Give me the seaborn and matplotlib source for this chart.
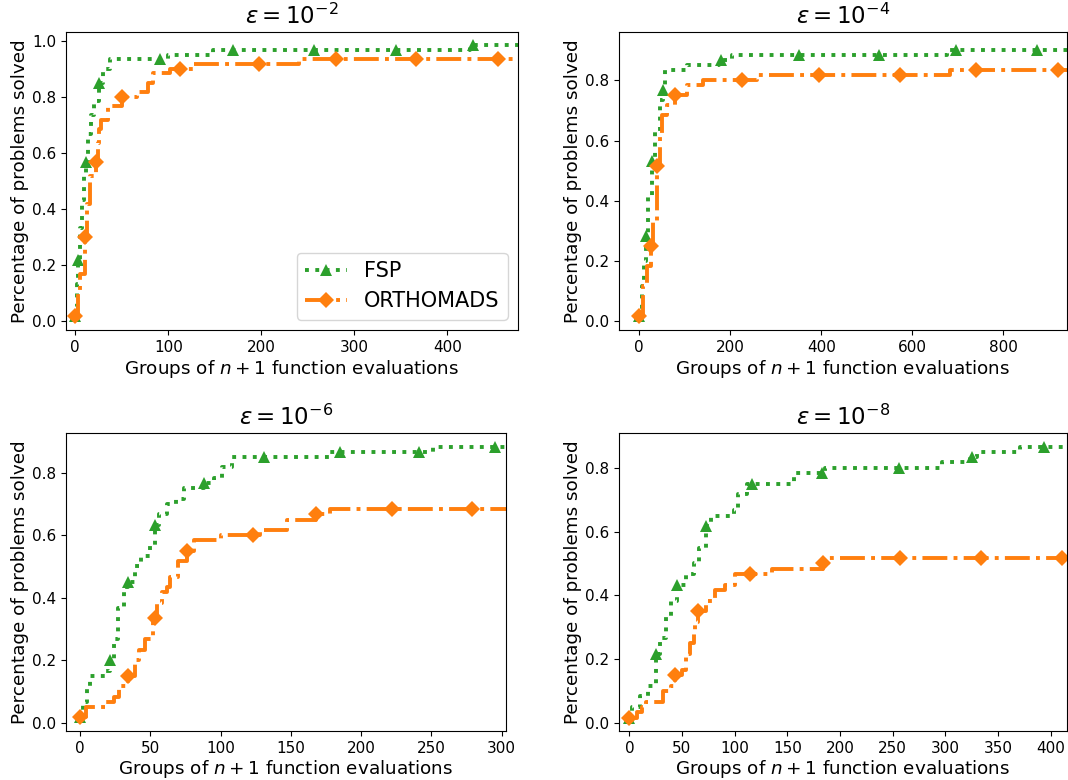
import numpy as np
import pandas as pd
import matplotlib
matplotlib.use("Agg")
import matplotlib.pyplot as plt
import seaborn as sns

sns.set_style("ticks")
plt.rcParams['font.family'] = ['DejaVu Sans']
plt.rcParams['mathtext.fontset'] = 'dejavusans'
for key in ['text.color', 'axes.labelcolor', 'xtick.color', 'ytick.color', 'axes.edgecolor']:
    plt.rcParams[key] = 'black'

N_PROBLEMS = 60

# step curves: x where the count of solved problems changes, and the new count
# eps = 1e-2
fsp_x_2 = [0, 1, 2, 3, 5, 7, 9, 11, 14, 17, 20, 25, 30, 37, 100, 148, 424, 600]
fsp_n_2 = [1, 3, 8, 13, 20, 26, 31, 34, 40, 44, 47, 51, 54, 56, 57, 58, 59, 59]
fsp_m_2 = [0, 3, 11, 25, 91, 170, 257, 345, 428]
orth_x_2 = [0, 3, 5, 10, 13, 16, 22, 24, 26, 28, 35, 50, 66, 78, 84, 102, 127, 240, 600]
orth_n_2 = [1, 6, 10, 18, 25, 31, 34, 38, 41, 43, 46, 48, 49, 51, 53, 54, 55, 56, 56]
orth_m_2 = [0, 10, 22, 50, 113, 197, 280, 366, 454]

# eps = 1e-4
fsp_x_4 = [0, 5, 10, 14, 20, 27, 35, 45, 53, 57, 104, 175, 203, 676, 1100]
fsp_n_4 = [1, 7, 12, 17, 25, 32, 38, 44, 46, 50, 51, 52, 53, 54, 54]
fsp_m_4 = [0, 14, 27, 53, 180, 350, 527, 696, 875]
orth_x_4 = [0, 9, 18, 25, 31, 40, 46, 51, 60, 78, 104, 141, 258, 683, 1100]
orth_n_4 = [1, 7, 11, 15, 20, 31, 37, 41, 43, 45, 47, 48, 49, 50, 50]
orth_m_4 = [0, 25, 40, 78, 226, 395, 573, 741, 921]

# eps = 1e-6
fsp_x_6 = [0, 2, 5, 7, 18, 21, 24, 27, 31, 34, 39, 43, 50, 53, 56, 62, 68, 74, 88, 95, 101, 108, 177, 251, 400]
fsp_n_6 = [1, 4, 7, 9, 10, 12, 16, 22, 26, 27, 30, 32, 34, 38, 40, 42, 43, 45, 46, 47, 49, 51, 52, 53, 53]
fsp_m_6 = [0, 21, 34, 53, 88, 131, 185, 241, 295]
orth_x_6 = [0, 4, 18, 24, 28, 34, 39, 42, 46, 52, 55, 58, 62, 64, 70, 76, 81, 100, 128, 147, 168, 178, 400]
orth_n_6 = [1, 3, 4, 5, 7, 9, 12, 14, 16, 20, 23, 25, 26, 28, 31, 33, 35, 36, 37, 39, 40, 41, 41]
orth_m_6 = [0, 34, 53, 76, 123, 168, 222, 279]

# eps = 1e-8
fsp_x_8 = [0, 3, 10, 18, 25, 29, 35, 40, 45, 54, 61, 66, 73, 78, 92, 99, 103, 112, 156, 186, 297, 323, 330, 371, 500]
fsp_n_8 = [1, 3, 5, 7, 13, 16, 20, 23, 26, 28, 30, 33, 37, 39, 39, 40, 43, 45, 47, 48, 49, 50, 51, 52, 52]
fsp_m_8 = [0, 25, 45, 73, 116, 183, 256, 325, 394]
orth_x_8 = [0, 7, 12, 16, 32, 40, 43, 50, 54, 58, 61, 62, 65, 73, 81, 91, 100, 135, 184, 189, 500]
orth_n_8 = [1, 2, 3, 4, 6, 7, 9, 10, 13, 15, 17, 19, 21, 23, 25, 26, 28, 29, 30, 31, 31]
orth_m_8 = [0, 43, 65, 115, 184, 257, 334, 411]

titles = [r'$\varepsilon = 10^{-2}$', r'$\varepsilon = 10^{-4}$',
          r'$\varepsilon = 10^{-6}$', r'$\varepsilon = 10^{-8}$']
xlims = [(-10, 476), (-44.6, 940), (-10, 303), (-9.8, 415.5)]
ylims = [(-0.032, 1.031), (-0.03, 0.961), (-0.027, 0.927), (-0.025, 0.909)]
xticks = [[0, 100, 200, 300, 400], [0, 200, 400, 600, 800],
          [0, 50, 100, 150, 200, 250, 300], [0, 50, 100, 150, 200, 250, 300, 350, 400]]

panels = [
    ((fsp_x_2, fsp_n_2, fsp_m_2), (orth_x_2, orth_n_2, orth_m_2)),
    ((fsp_x_4, fsp_n_4, fsp_m_4), (orth_x_4, orth_n_4, orth_m_4)),
    ((fsp_x_6, fsp_n_6, fsp_m_6), (orth_x_6, orth_n_6, orth_m_6)),
    ((fsp_x_8, fsp_n_8, fsp_m_8), (orth_x_8, orth_n_8, orth_m_8)),
]

# axes boxes in pixels (left, right, top, bottom)
W, H = 1068, 780
boxes = [(66, 518, 32, 330), (619, 1067, 32, 330),
         (66, 506, 433, 731), (619, 1067, 433, 731)]


def step_frame(xs, ns, marks):
    """Merge marker positions into the step curve so markevery can hit them."""
    xs = np.asarray(xs, dtype=float)
    ns = np.asarray(ns, dtype=float)
    all_x = np.union1d(xs, np.asarray(marks, dtype=float))
    idx = np.searchsorted(xs, all_x, side='right') - 1
    y = ns[idx] / N_PROBLEMS
    mark_idx = [int(np.where(all_x == m)[0][0]) for m in marks]
    return pd.DataFrame({'x': all_x, 'y': y}), mark_idx


fig = plt.figure(figsize=(10.68, 7.8), dpi=100)

for i, (fsp, orth) in enumerate(panels):
    l, r, t, b = boxes[i]
    ax = fig.add_axes([l / W, 1 - b / H, (r - l) / W, (b - t) / H])

    df, mk = step_frame(*fsp)
    sns.lineplot(data=df, x='x', y='y', ax=ax, estimator=None, sort=False,
                 drawstyle='steps-post', color='#2ca02c', linestyle=':',
                 linewidth=2.8, marker='^', markersize=8, markevery=mk,
                 markeredgewidth=0, label='FSP')

    df, mk = step_frame(*orth)
    sns.lineplot(data=df, x='x', y='y', ax=ax, estimator=None, sort=False,
                 drawstyle='steps-post', color='#ff7f0e', linestyle='-.',
                 linewidth=2.8, marker='D', markersize=8, markevery=mk,
                 markeredgewidth=0, label='ORTHOMADS')

    ax.set_xlim(*xlims[i])
    ax.set_ylim(*ylims[i])
    ax.set_xticks(xticks[i])
    ax.set_title(titles[i], fontsize=16.5)
    ax.set_xlabel('Groups of $n + 1$ function evaluations', fontsize=13.2, labelpad=2)
    ax.set_ylabel('Percentage of problems solved', fontsize=13.2, labelpad=2)
    ax.tick_params(labelsize=11)

    if i == 0:
        ax.legend(loc='lower right', fontsize=15)
    else:
        ax.get_legend().remove()

plt.savefig('out.png', dpi=100)
